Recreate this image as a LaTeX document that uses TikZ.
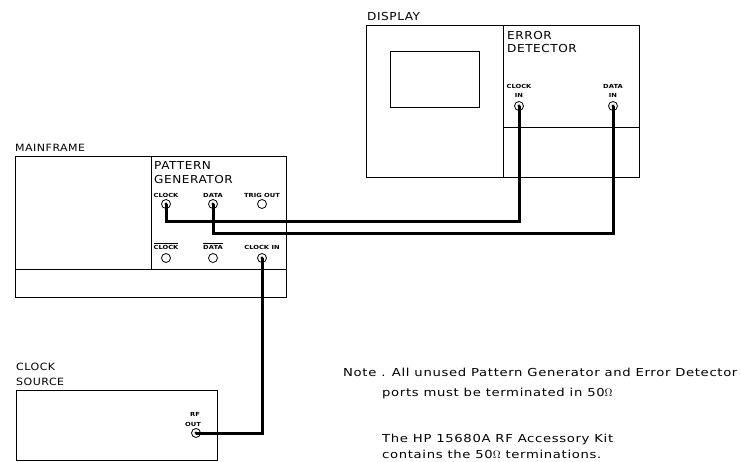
\documentclass[tikz,border=0pt]{standalone}
\usepackage{fontspec}
\setmainfont{DejaVu Sans}[FakeStretch=1.2]
\newfontfamily\plotfont{DejaVu Sans}[FakeStretch=1.1,LetterSpace=5]
\newfontfamily\notefont{DejaVu Sans}[FakeStretch=1.2,LetterSpace=6]
\begin{document}
\begin{tikzpicture}[x=1pt,y=-1pt,
  box/.style={draw,line width=0.8pt,inner sep=0,anchor=north west},
  port/.style={circle,draw,line width=0.8pt,minimum size=9pt,inner sep=0},
  cable/.style={line width=3pt},
  lbl/.style={anchor=base west,inner sep=0,font=\plotfont\fontsize{11}{12}\selectfont},
  smlbl/.style={anchor=base west,inner sep=0,font=\plotfont\fontsize{10}{11}\selectfont},
  note/.style={anchor=base west,inner sep=0,font=\notefont\fontsize{11}{12}\selectfont},
  plbl/.style={anchor=base,inner sep=0,font=\bfseries\fontsize{5.6}{6}\selectfont},
  thin/.style={line width=0.8pt}]
\useasboundingbox (0,0) rectangle (741,461);
% Mainframe
\node[box,minimum width=271pt,minimum height=141pt] (mf) at (15,156) {};
\draw[thin] (151,156) -- (151,269);
\draw[thin] (15,269) -- (286,269);
\node[smlbl] (mflbl) at (15,151) {MAINFRAME};
\node[lbl] (pg1) at (154,169) {PATTERN};
\node[lbl] (pg2) at (154,183) {GENERATOR};
\node[plbl] (l1) at (166,197) {CLOCK};
\node[plbl] (l2) at (213,197) {DATA};
\node[plbl] (l3) at (262,197) {TRIG OUT};
\node[plbl] (l4) at (166,249) {$\overline{\hbox{CLOCK}}$};
\node[plbl] (l5) at (213,249) {$\overline{\hbox{DATA}}$};
\node[plbl] (l6) at (262,249) {CLOCK IN};
\node[port] (pgclk) at (166,204) {};
\node[port] (pgdat) at (213,204) {};
\node[port] (trig) at (262,204) {};
\node[port] (nclk) at (166,258) {};
\node[port] (ndat) at (213,258) {};
\node[port] (clkin) at (262,258) {};
% Display / Error detector
\node[box,minimum width=273pt,minimum height=152pt] (disp) at (366,25) {};
\draw[thin] (503,25) -- (503,177);
\draw[thin] (503,127) -- (639,127);
\node[box,minimum width=89pt,minimum height=56pt] (screen) at (390,51) {};
\node[lbl] (displbl) at (367,20) {DISPLAY};
\node[lbl] (ed1) at (507,39) {ERROR};
\node[lbl] (ed2) at (507,52) {DETECTOR};
\node[plbl] (l7) at (519,88) {CLOCK};
\node[plbl] (l8) at (519,97) {IN};
\node[plbl] (l9) at (613,88) {DATA};
\node[plbl] (l10) at (613,97) {IN};
\node[port] (edclk) at (519,106) {};
\node[port] (eddat) at (613,106) {};
% Clock source
\node[box,minimum width=201pt,minimum height=70pt] (cs) at (16,390) {};
\node[smlbl] (cs1) at (16,370) {CLOCK};
\node[smlbl] (cs2) at (16,385) {SOURCE};
\node[plbl] (l11) at (195,416) {RF};
\node[plbl] (l12) at (193,426) {OUT};
\node[port] (rfout) at (196,433) {};
% Cables
\draw[cable] (pgclk.center) -- ++(0,17) -| (edclk.center);
\draw[cable] (pgdat.center) -- ++(0,29) -| (eddat.center);
\draw[cable] (rfout.center) -| (clkin.center);
\foreach \p in {pgclk,pgdat,edclk,eddat,rfout,clkin} \fill (\p.center) circle (1.6pt);
% Note
\node[note] (n1) at (343,376) {Note . All unused Pattern Generator and Error Detector};
\node[note] (n2) at (382,396) {ports must be terminated in 50$\Omega$};
\node[note] (n3) at (382,442) {The HP 15680A RF Accessory Kit};
\node[note] (n4) at (382,458) {contains the 50$\Omega$ terminations.};
\end{tikzpicture}
\end{document}
